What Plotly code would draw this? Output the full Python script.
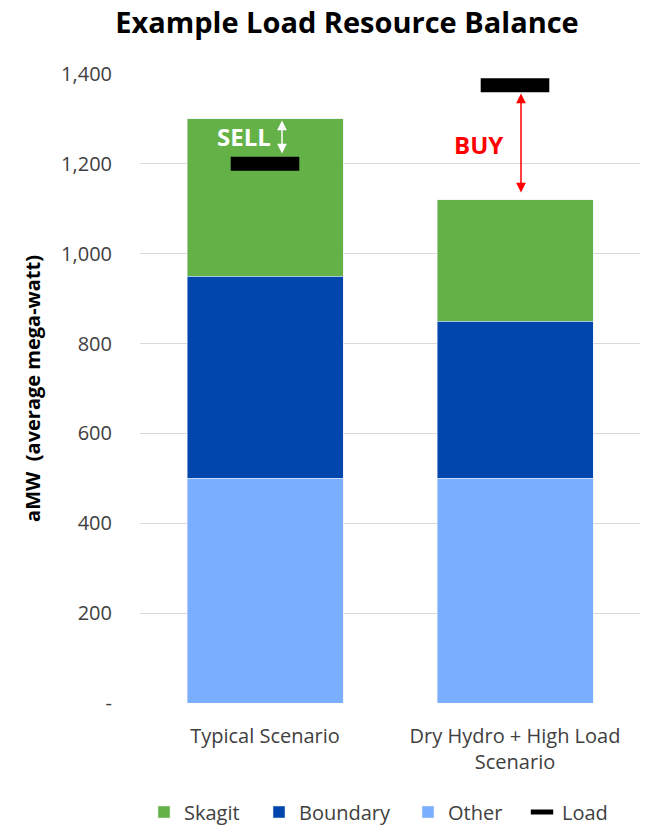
import plotly.graph_objects as go

categories = ["Typical Scenario", "Dry Hydro + High Load<br>Scenario"]
other = [500, 500]
boundary = [450, 350]
skagit = [350, 270]
load = [1200, 1375]

y_ticks = [0, 200, 400, 600, 800, 1000, 1200, 1400]
y_tick_labels = ["-", "200", "400", "600", "800", "1,000", "1,200", "1,400"]

FONT = "Open Sans"
W, H = 646, 826
ML, MR, MT, MB = 140, 6, 74, 123
PW, PH = W - ML - MR, H - MT - MB


def lx(px):
    return (px - ML) / PW


def ly(py):
    return (H - MB - py) / PH


fig = go.Figure()
fig.add_trace(go.Bar(name="Other", x=categories, y=other, marker_color="#7AAEFF",
                     legend="legend4"))
fig.add_trace(go.Bar(name="Boundary", x=categories, y=boundary, marker_color="#0046AD",
                     legend="legend3"))
fig.add_trace(go.Bar(name="Skagit", x=categories, y=skagit, marker_color="#64B148",
                     legend="legend2"))
fig.add_trace(go.Scatter(name="Load", x=categories, y=load, mode="markers",
                         marker=dict(symbol="line-ew", size=49, color="black",
                                     line=dict(width=14, color="black")),
                         legend="legend5"))

typ_top = other[0] + boundary[0] + skagit[0]
dry_top = other[1] + boundary[1] + skagit[1]

annotations = [
    dict(x=0.068, y=load[0] + 23, ax=0.068, ay=typ_top, xref="x", yref="y",
         axref="x", ayref="y", text="", showarrow=True, arrowhead=2,
         arrowside="end+start", arrowsize=1.3, arrowwidth=1.5, arrowcolor="white",
         startarrowhead=2, startarrowsize=1.3),
    dict(x=1.024, y=dry_top + 16, ax=1.024, ay=load[1] - 15, xref="x", yref="y",
         axref="x", ayref="y", text="", showarrow=True, arrowhead=2,
         arrowside="end+start", arrowsize=1.3, arrowwidth=1.5, arrowcolor="red",
         startarrowhead=2, startarrowsize=1.3),
    dict(x=-0.084, y=1260, xref="x", yref="y", text="<b>SELL</b>", showarrow=False,
         font=dict(family=FONT, size=24, color="white")),
    dict(x=0.854, y=1243, xref="x", yref="y", text="<b>BUY</b>", showarrow=False,
         font=dict(family=FONT, size=24, color="red")),
]

leg_font = dict(family=FONT, size=20, color="#404040")
leg_y = ly(812)


def leg(xpx):
    return dict(orientation="h", x=lx(xpx - 20), xanchor="left", y=leg_y,
                yanchor="middle", font=leg_font, bgcolor="rgba(0,0,0,0)")


fig.update_layout(
    width=W, height=H,
    barmode="stack", bargap=0.376,
    paper_bgcolor="white", plot_bgcolor="white",
    margin=dict(l=ML, r=MR, t=MT, b=MB, autoexpand=False),
    font=dict(family=FONT, size=20, color="#404040"),
    title=dict(text="<b>Example Load Resource Balance</b>", x=347 / W,
               xanchor="center", y=1 - 23 / H, yanchor="middle",
               font=dict(family=FONT, size=29, color="black")),
    yaxis=dict(range=[0, 1400], tickvals=y_ticks, ticktext=y_tick_labels,
               gridcolor="#D9D9D9", gridwidth=1, zeroline=False, showline=False,
               automargin=False,
               ticklabelstandoff=27, tickfont=dict(size=20, color="#404040"),
               title=dict(text="<b>aMW  (average mega-watt)</b>", standoff=15,
                          font=dict(size=20, color="black"))),
    xaxis=dict(showline=False, automargin=False,
               tickfont=dict(size=20, color="#404040"), ticklabelstandoff=19),
    showlegend=True,
    legend2=leg(164),
    legend3=leg(279),
    legend4=leg(428),
    legend5=leg(542),
    annotations=annotations,
)

fig.write_html("out.html", config={"displayModeBar": False},
               post_script="document.body.style.margin='0';document.body.style.overflow='hidden';")
